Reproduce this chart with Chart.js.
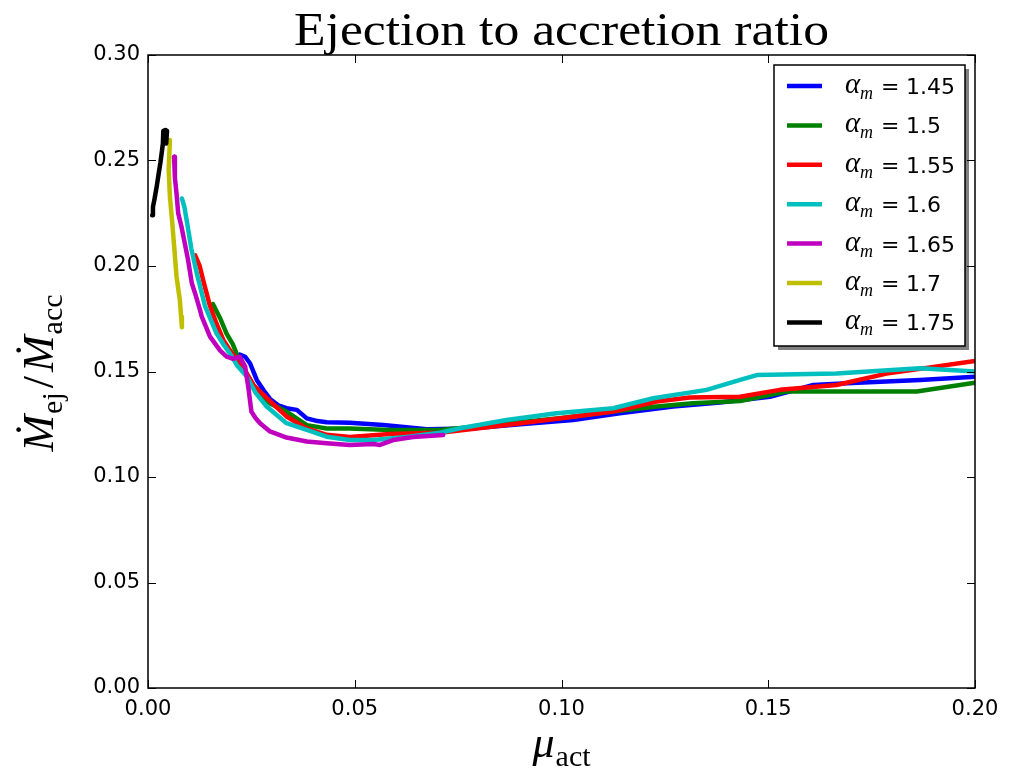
<!DOCTYPE html>
<html>
<head>
<meta charset="utf-8">
<title>Ejection to accretion ratio</title>
<script src="https://cdn.jsdelivr.net/npm/chart.js@4.4.1/dist/chart.umd.min.js"></script>
<style>
  html, body { margin: 0; padding: 0; background: #fff; }
  #wrap { width: 1014px; height: 772px; }
</style>
</head>
<body>
<div id="wrap"><canvas id="canvas" width="1014" height="772"></canvas></div>
<script>
/*
  Ejection to accretion ratio vs mu_act, one curve per alpha_m.
*/

var alphaLabels = ['1.45', '1.5', '1.55', '1.6', '1.65', '1.7', '1.75'];
var lineColors = ['#0000ff', '#008000', '#ff0000', '#00bfbf', '#bf00bf', '#bfbf00', '#000000'];

var xTicks = [0, 0.05, 0.10, 0.15, 0.20];
var yTicks = [0, 0.05, 0.10, 0.15, 0.20, 0.25, 0.30];

// alpha_m = 1.45
var mu145 = [0.0222, 0.0235, 0.0247, 0.0263, 0.0280, 0.0295, 0.0315, 0.0335, 0.0360, 0.0384, 0.0410, 0.0432, 0.0488, 0.0569, 0.0674, 0.0779, 0.0900, 0.1028, 0.1141, 0.1270, 0.1383, 0.1504, 0.1609, 0.1690, 0.1867, 0.2000];
var ratio145 = [0.158, 0.157, 0.1538, 0.146, 0.141, 0.137, 0.134, 0.1326, 0.1318, 0.1278, 0.1265, 0.126, 0.1257, 0.1246, 0.1226, 0.123, 0.125, 0.127, 0.1302, 0.1334, 0.1353, 0.138, 0.1436, 0.1444, 0.146, 0.1475];

// alpha_m = 1.5
var mu150 = [0.0157, 0.0175, 0.0190, 0.0205, 0.0214, 0.0230, 0.0250, 0.0270, 0.0295, 0.0335, 0.0384, 0.0432, 0.0488, 0.0585, 0.0706, 0.0850, 0.1000, 0.1125, 0.1230, 0.1318, 0.1432, 0.1544, 0.1700, 0.1859, 0.2000];
var ratio150 = [0.182, 0.175, 0.168, 0.163, 0.1586, 0.152, 0.145, 0.139, 0.1349, 0.131, 0.1246, 0.123, 0.123, 0.1223, 0.1223, 0.125, 0.128, 0.131, 0.1334, 0.1349, 0.136, 0.1405, 0.1405, 0.1405, 0.1447];

// alpha_m = 1.55
var mu155 = [0.0114, 0.0125, 0.0135, 0.0150, 0.0165, 0.0182, 0.0195, 0.0210, 0.0230, 0.0255, 0.0295, 0.0335, 0.0384, 0.0432, 0.0488, 0.0585, 0.0706, 0.0867, 0.1028, 0.1125, 0.1230, 0.1310, 0.1432, 0.1528, 0.1665, 0.1786, 0.2000];
var ratio155 = [0.205, 0.200, 0.192, 0.181, 0.173, 0.165, 0.161, 0.157, 0.152, 0.1436, 0.136, 0.1287, 0.123, 0.120, 0.119, 0.1204, 0.121, 0.1246, 0.1286, 0.131, 0.1358, 0.1377, 0.138, 0.1413, 0.1436, 0.149, 0.155];

// alpha_m = 1.6
var mu160 = [0.0082, 0.0088, 0.0095, 0.0105, 0.0118, 0.0138, 0.0155, 0.0166, 0.0182, 0.0198, 0.0215, 0.0239, 0.0260, 0.0287, 0.0335, 0.0384, 0.0432, 0.0488, 0.0545, 0.0625, 0.0706, 0.0755, 0.0867, 0.0988, 0.1125, 0.1222, 0.1351, 0.1432, 0.1472, 0.1665, 0.1867, 0.2000];
var ratio160 = [0.232, 0.228, 0.220, 0.208, 0.1965, 0.181, 0.173, 0.168, 0.163, 0.1586, 0.153, 0.1476, 0.140, 0.1334, 0.1255, 0.1223, 0.1191, 0.1175, 0.1175, 0.119, 0.121, 0.1231, 0.127, 0.1302, 0.1326, 0.1373, 0.1413, 0.146, 0.1483, 0.149, 0.1515, 0.150];

// alpha_m = 1.65
var mu165 = [0.0063, 0.0065, 0.0069, 0.0073, 0.0081, 0.0097, 0.0106, 0.0114, 0.0126, 0.0130, 0.0150, 0.0174, 0.0190, 0.0206, 0.0222, 0.0235, 0.0243, 0.0250, 0.0260, 0.0271, 0.0295, 0.0335, 0.0384, 0.0432, 0.0488, 0.0545, 0.0561, 0.0593, 0.0641, 0.0714];
var ratio165 = [0.2518, 0.2420, 0.2344, 0.2250, 0.2186, 0.2028, 0.1918, 0.1870, 0.1790, 0.1760, 0.1665, 0.1600, 0.1570, 0.1560, 0.1570, 0.1523, 0.1420, 0.1310, 0.1280, 0.1255, 0.1216, 0.1187, 0.1168, 0.1160, 0.1152, 0.1156, 0.1152, 0.1175, 0.1190, 0.1199];

// alpha_m = 1.7
var mu170 = [0.0053, 0.0050, 0.0053, 0.0058, 0.0063, 0.0069, 0.0074, 0.0077, 0.0080, 0.0082];
var ratio170 = [0.2597, 0.2455, 0.2329, 0.2220, 0.2100, 0.1950, 0.1880, 0.1840, 0.1760, 0.1710];

// alpha_m = 1.75
var mu175 = [0.0010, 0.0012, 0.0016, 0.0021, 0.0026, 0.0030, 0.0033, 0.0036, 0.0037, 0.0042, 0.0046, 0.0044];
var ratio175 = [0.2240, 0.2280, 0.2320, 0.2376, 0.2440, 0.2490, 0.2534, 0.2580, 0.2640, 0.2645, 0.2640, 0.2580];

var allMu = [mu145, mu150, mu155, mu160, mu165, mu170, mu175];
var allRatio = [ratio145, ratio150, ratio155, ratio160, ratio165, ratio170, ratio175];

function makePoints( xs , ys ){
  var pts = [];
  for( var i = 0; i < xs.length; i++ ){
    pts.push({ x: xs[i], y: ys[i] });
  }
  return pts;
}

function makeDatasets(){
  var sets = [];
  for( var i = 0; i < alphaLabels.length; i++ ){
    sets.push({
      label: alphaLabels[i],
      data: makePoints( allMu[i], allRatio[i] ),
      borderColor: lineColors[i],
      backgroundColor: lineColors[i],
      borderWidth: 4.5,
      borderJoinStyle: 'round',
      borderCapStyle: 'round',
      showLine: true,
      pointRadius: 0,
      fill: false,
      tension: 0,
      // later series drawn on top, like matplotlib
      order: alphaLabels.length - i
    });
  }
  return sets;
}

// draws a run of text pieces: {t, font, dy, gap}
function drawRich( ctx , pieces , x , y ){
  var cx = x;
  pieces.forEach(function(p){
    ctx.font = p.font;
    ctx.fillText( p.t, cx, y + (p.dy || 0) );
    cx += ctx.measureText( p.t ).width + (p.gap || 0);
  });
  return cx - x;
}

function richWidth( ctx , pieces ){
  var w = 0;
  pieces.forEach(function(p){
    ctx.font = p.font;
    w += ctx.measureText( p.t ).width + (p.gap || 0);
  });
  return w;
}

var bigIt = 'italic 44px "Liberation Serif", serif';
var bigUp = '44px "Liberation Serif", serif';
var subUp = '30px "Liberation Serif", serif';

var decor = {
  id: 'decor',
  afterDraw: function( chart ){
    var ctx = chart.ctx;
    var a = chart.chartArea;
    var xs = chart.scales.x, ys = chart.scales.y;
    ctx.save();

    // inward ticks on all four sides
    ctx.strokeStyle = '#000';
    ctx.lineWidth = 1;
    ctx.beginPath();
    xTicks.forEach(function(v){
      var px = Math.round( xs.getPixelForValue(v) ) + 0.5;
      ctx.moveTo(px, a.bottom); ctx.lineTo(px, a.bottom - 8);
      ctx.moveTo(px, a.top); ctx.lineTo(px, a.top + 8);
    });
    yTicks.forEach(function(v){
      var py = Math.round( ys.getPixelForValue(v) ) + 0.5;
      ctx.moveTo(a.left, py); ctx.lineTo(a.left + 8, py);
      ctx.moveTo(a.right, py); ctx.lineTo(a.right - 8, py);
    });
    ctx.stroke();

    // frame
    ctx.lineWidth = 1.5;
    ctx.strokeRect(a.left, a.top, a.right - a.left, a.bottom - a.top);

    // title, stretched to the reference width
    ctx.fillStyle = '#000';
    ctx.textAlign = 'center';
    ctx.textBaseline = 'alphabetic';
    ctx.font = '47px "Liberation Serif", serif';
    var title = 'Ejection to accretion ratio';
    var tw = ctx.measureText(title).width;
    ctx.save();
    ctx.translate((a.left + a.right) / 2, 45);
    ctx.scale(535 / tw, 1);
    ctx.fillText(title, 0, 0);
    ctx.restore();

    // x axis title: mu_act
    ctx.textAlign = 'left';
    var xt = [
      { t: 'μ', font: bigIt, gap: 1 },
      { t: 'act', font: subUp, dy: 9 }
    ];
    var xw = richWidth(ctx, xt);
    drawRich(ctx, xt, (a.left + a.right) / 2 - xw / 2, 757);

    // y axis title: Mdot_ej / Mdot_acc
    var yt = [
      { t: 'Ṁ', font: bigIt, gap: 1 },
      { t: 'ej', font: subUp, dy: 9, gap: 4 },
      { t: '/', font: bigUp, gap: 4 },
      { t: 'Ṁ', font: bigIt, gap: 1 },
      { t: 'acc', font: subUp, dy: 9 }
    ];
    var yw = richWidth(ctx, yt);
    ctx.save();
    ctx.translate(53, 373);
    ctx.rotate(-Math.PI / 2);
    drawRich(ctx, yt, -yw / 2, 0);
    ctx.restore();

    // legend box with shadow
    var lx = 774, ly = 65, lw = 191, lh = 281;
    ctx.fillStyle = 'rgba(0,0,0,0.5)';
    ctx.fillRect(lx + 4, ly + 4, lw, lh);
    ctx.fillStyle = '#fff';
    ctx.fillRect(lx, ly, lw, lh);
    ctx.strokeStyle = '#000';
    ctx.lineWidth = 1.5;
    ctx.strokeRect(lx, ly, lw, lh);

    chart.data.datasets.forEach(function(ds, i){
      var rowY = 86 + i * 39.4;
      ctx.strokeStyle = ds.borderColor;
      ctx.lineWidth = 4.5;
      ctx.beginPath();
      ctx.moveTo(787, rowY); ctx.lineTo(822, rowY);
      ctx.stroke();
      ctx.fillStyle = '#000';
      ctx.textAlign = 'left';
      ctx.font = 'italic 29px "Liberation Serif", serif';
      ctx.fillText('α', 845, rowY + 7);
      ctx.font = 'italic 18px "Liberation Serif", serif';
      ctx.fillText('m', 860, rowY + 13);
      ctx.font = '22px "DejaVu Sans", sans-serif';
      ctx.fillText('=', 881, rowY + 8);
      ctx.fillText(ds.label, 906, rowY + 8);
    });

    ctx.restore();
  }
};

var ctx = document.getElementById('canvas').getContext('2d');
var chart = new Chart(ctx, {
  type: 'scatter',
  data: { datasets: makeDatasets() },
  options: {
    responsive: false,
    animation: false,
    events: [],
    layout: { padding: { top: 55, right: 39, left: 0, bottom: 0 } },
    plugins: {
      legend: { display: false },
      tooltip: { enabled: false },
      title: { display: false }
    },
    scales: {
      x: {
        type: 'linear',
        min: 0, max: 0.2,
        afterBuildTicks: function(s){ s.ticks = xTicks.map(function(v){ return { value: v }; }); },
        afterFit: function(s){ s.height = 84; },
        grid: { display: false, drawTicks: false },
        border: { display: false },
        ticks: {
          padding: 9,
          color: '#000',
          font: { family: '"DejaVu Sans", sans-serif', size: 21 },
          maxRotation: 0,
          callback: function(v){ return Number(v).toFixed(2); }
        }
      },
      y: {
        type: 'linear',
        min: 0, max: 0.3,
        afterBuildTicks: function(s){ s.ticks = yTicks.map(function(v){ return { value: v }; }); },
        afterFit: function(s){ s.width = 148; },
        grid: { display: false, drawTicks: false },
        border: { display: false },
        ticks: {
          padding: 8,
          color: '#000',
          font: { family: '"DejaVu Sans", sans-serif', size: 21 },
          callback: function(v){ return Number(v).toFixed(2); }
        }
      }
    }
  },
  plugins: [decor]
});
</script>
</body>
</html>
